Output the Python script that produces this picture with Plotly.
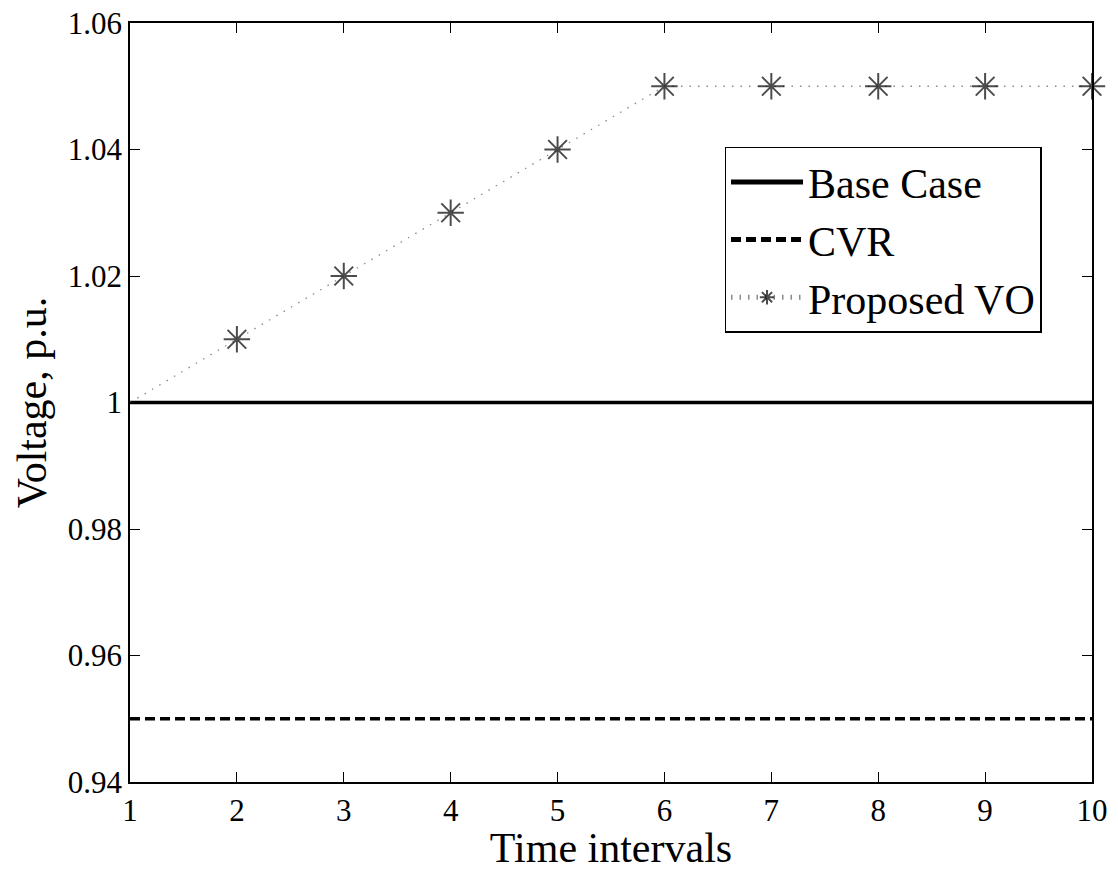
import plotly.graph_objects as go

# Time intervals and per-unit voltage profiles
time_intervals = [1, 2, 3, 4, 5, 6, 7, 8, 9, 10]
base_case = [1.0, 1.0, 1.0, 1.0, 1.0, 1.0, 1.0, 1.0, 1.0, 1.0]
cvr = [0.95, 0.95, 0.95, 0.95, 0.95, 0.95, 0.95, 0.95, 0.95, 0.95]
proposed_vo = [1.0, 1.01, 1.02, 1.03, 1.04, 1.05, 1.05, 1.05, 1.05, 1.05]

y_tick_vals = [0.94, 0.96, 0.98, 1.0, 1.02, 1.04, 1.06]
y_tick_text = ["0.94", "0.96", "0.98", "1", "1.02", "1.04", "1.06"]

font_family = "Liberation Serif, Times New Roman, serif"

fig = go.Figure()
fig.add_trace(go.Scatter(
    x=time_intervals, y=base_case, mode="lines", name="Base Case",
    line=dict(color="black", width=3.5),
))
fig.add_trace(go.Scatter(
    x=time_intervals, y=cvr, mode="lines", name="CVR",
    line=dict(color="black", width=3.5, dash="10px,5px"),
))
fig.add_trace(go.Scatter(
    x=time_intervals, y=proposed_vo, mode="lines+markers", name="Proposed VO",
    line=dict(color="#8a8a8a", width=1.3, dash="1.5px,7px"),
    marker=dict(symbol="asterisk-open", size=[0] + [22] * 9,
                line=dict(color="black", width=2), color="black"),
    cliponaxis=False,
))

axis_common = dict(
    showline=True, linecolor="black", linewidth=1.5, mirror="ticks",
    ticks="inside", ticklen=10, tickcolor="black", tickwidth=1,
    showgrid=False, zeroline=False, automargin=False,
    tickfont=dict(family=font_family, size=31, color="black"),
)

fig.update_layout(
    width=1118, height=871,
    margin=dict(l=130, r=26, t=23, b=89),
    plot_bgcolor="white", paper_bgcolor="white",
    font=dict(family=font_family, color="black"),
    xaxis=dict(
        range=[1, 10], tickvals=time_intervals, ticklabelstandoff=0,
        title=dict(text="Time intervals", font=dict(family=font_family, size=42), standoff=10),
        **axis_common,
    ),
    yaxis=dict(
        range=[0.94, 1.06], tickvals=y_tick_vals, ticktext=y_tick_text,
        title=dict(text="Voltage, p.u.", font=dict(family=font_family, size=42), standoff=8),
        **axis_common,
    ),
    legend=dict(
        x=0.618, y=0.837, xanchor="left", yanchor="top",
        bgcolor="white", bordercolor="black", borderwidth=1.5,
        font=dict(family=font_family, size=42, color="black"),
        itemsizing="constant", tracegroupgap=0, itemwidth=72,
    ),
    showlegend=True,
)

fig.write_html("out.html")
